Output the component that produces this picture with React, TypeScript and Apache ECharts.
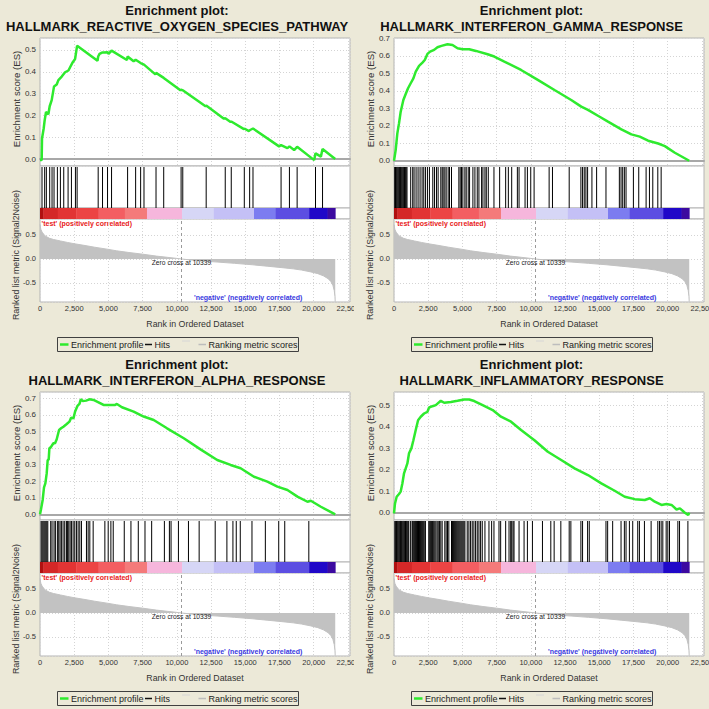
import React, { useEffect, useRef } from 'react';
import * as echarts from 'echarts';

const FONT = "'Liberation Sans', Arial, Helvetica, sans-serif";
const BG = '#ECE9D8';

// ---------- data ----------
const titles = [
  'HALLMARK_REACTIVE_OXYGEN_SPECIES_PATHWAY',
  'HALLMARK_INTERFERON_GAMMA_RESPONSE',
  'HALLMARK_INTERFERON_ALPHA_RESPONSE',
  'HALLMARK_INFLAMMATORY_RESPONSE',
];

const zeroCross = 10339;

const esRos: [number, number][] = [
  [0, -0.005], [122, -0.005], [147, 0.094], [269, 0.14], [342, 0.178], [440, 0.216], [611, 0.205], [708, 0.242],
  [855, 0.27], [1026, 0.333], [1221, 0.342], [1344, 0.362], [1588, 0.378], [1832, 0.398], [2077, 0.406],
  [2199, 0.421], [2394, 0.444], [2565, 0.459], [2712, 0.52], [4202, 0.451], [4251, 0.47], [4349, 0.482],
  [4568, 0.489], [4642, 0.489], [4935, 0.49], [5008, 0.482], [5228, 0.497], [6352, 0.454], [6400, 0.47],
  [6840, 0.448], [6987, 0.455], [7353, 0.44], [7598, 0.433], [8429, 0.388], [8477, 0.395], [9039, 0.372],
  [10261, 0.315], [10310, 0.318], [10432, 0.315], [12093, 0.242], [12142, 0.245], [13437, 0.185],
  [13535, 0.187], [13925, 0.17], [13974, 0.172], [14903, 0.137], [14927, 0.14], [15270, 0.128], [15318, 0.132],
  [15562, 0.14], [17467, 0.058], [17614, 0.064], [18078, 0.05], [18225, 0.058], [18567, 0.041], [18787, 0.056],
  [20033, -0.005], [20130, 0.026], [20522, 0.011], [20644, 0.046], [21571, 0.0],
];

const esIfng: [number, number][] = [
  [0, 0], [122, 0.061], [244, 0.157], [366, 0.214], [489, 0.281], [684, 0.348], [855, 0.382], [1026, 0.415],
  [1221, 0.444], [1417, 0.472], [1588, 0.51], [1832, 0.543], [2077, 0.562], [2248, 0.577], [2443, 0.612],
  [2638, 0.625], [2932, 0.635], [3176, 0.65], [3469, 0.658], [3909, 0.667], [4275, 0.663], [4642, 0.644],
  [5008, 0.639], [5497, 0.639], [5986, 0.629], [6840, 0.61], [7329, 0.597], [8062, 0.568], [9283, 0.52],
  [10505, 0.463], [11726, 0.405], [12948, 0.348], [13681, 0.31], [14170, 0.291], [15024, 0.252], [15635, 0.224],
  [16612, 0.18], [17345, 0.151], [17956, 0.138], [18567, 0.115], [19300, 0.099], [19788, 0.084], [20521, 0.046],
  [21571, 0.0],
];

const esIfna: [number, number][] = [
  [0, 0], [73, 0.03], [195, 0.087], [293, 0.163], [391, 0.187], [489, 0.247], [562, 0.328], [636, 0.33],
  [684, 0.398], [782, 0.404], [977, 0.429], [1099, 0.429], [1221, 0.453], [1393, 0.509], [1539, 0.519],
  [1710, 0.529], [1954, 0.545], [2150, 0.559], [2272, 0.583], [2443, 0.579], [2565, 0.62], [2736, 0.654],
  [2883, 0.666], [2980, 0.694], [3127, 0.684], [3371, 0.686], [3616, 0.694], [3909, 0.69], [4275, 0.676],
  [4642, 0.66], [5008, 0.66], [5497, 0.66], [5619, 0.666], [5986, 0.646], [6840, 0.62], [7574, 0.59],
  [8306, 0.569], [9283, 0.519], [10505, 0.459], [11726, 0.392], [12948, 0.328], [13925, 0.298], [14658, 0.278],
  [15635, 0.227], [16612, 0.197], [17345, 0.167], [18078, 0.147], [18811, 0.107], [19544, 0.076], [19788, 0.082],
  [20521, 0.046], [21571, 0],
];

const esInfl: [number, number][] = [
  [0, -0.003], [73, 0.043], [195, 0.074], [366, 0.087], [489, 0.098], [611, 0.136], [733, 0.183], [855, 0.206],
  [977, 0.229], [1099, 0.276], [1270, 0.299], [1417, 0.337], [1588, 0.384], [1759, 0.43], [1954, 0.446],
  [2199, 0.461], [2443, 0.469], [2565, 0.489], [2809, 0.495], [3054, 0.5], [3420, 0.52], [3665, 0.511],
  [4153, 0.515], [4642, 0.52], [5130, 0.526], [5497, 0.526], [5863, 0.519], [6474, 0.5], [7207, 0.477],
  [7818, 0.446], [8551, 0.423], [9283, 0.384], [10261, 0.337], [11238, 0.283], [12215, 0.245], [13192, 0.206],
  [14169, 0.175], [15146, 0.136], [16124, 0.102], [16857, 0.074], [17590, 0.063], [18323, 0.059], [18689, 0.067],
  [19055, 0.051], [19544, 0.036], [19910, 0.04], [20277, 0.036], [20644, 0.015], [20888, 0.02], [21254, 0.0],
  [21498, -0.011], [21571, 0.0],
];

const hitsRos = [
  147, 342, 464, 708, 880, 1026, 1270, 1490, 1735, 2052, 2296, 2589, 2712, 4251, 4568, 4935, 5228, 6400, 6987,
  7353, 7598, 8477, 9039, 10310, 10432, 12142, 13535, 13974, 14927, 15318, 15562, 17614, 18225, 18787, 20130, 20644,
];

const hitsIfng = [
  50, 110, 170, 230, 290, 350, 410, 470, 530, 590, 650, 710, 770, 830, 890, 950,
  1221, 1368, 1465, 1612, 1759, 1905, 2052, 2174, 2296, 2443, 2589, 2833, 2956, 3102, 3224,
  3420, 3518, 3591, 3713, 3811, 3957, 4055, 4202, 4739, 4837, 4934, 5032, 5179, 5276, 5423, 5521,
  5765, 5912, 6083, 6205, 6400, 6498, 6645, 6743, 6889, 7304, 7719, 8159, 8355, 8599, 9014, 9137, 9576,
  9747, 9991, 10236, 11335, 11579, 12801, 13656, 13778, 13900, 14022, 14145, 14462, 14804, 15488,
  16465, 16588, 16710, 16832, 16954, 17491, 17882, 18420, 18664, 18908, 19275, 19519,
];

const hitsIfna = [
  80, 150, 220, 290, 360, 430, 500, 570,
  781, 879, 1026, 1124, 1270, 1368, 1465, 1563, 1685, 1807, 1930, 2003, 2101, 2198, 2296, 2418, 2540, 2662,
  2785, 2907, 3029, 3395, 3518, 3640, 3884, 4739, 4983, 5179, 5350, 6156, 6645, 7182, 7671, 8159, 9088,
  9454, 9576, 10114, 10847, 11628, 12801, 13656, 14096, 14340, 14633, 15488, 16465, 17443, 17882, 19641,
];

const hitsInfl = [
  60, 120, 180, 240, 300, 360, 420, 480, 540, 600, 660, 720, 780, 840, 900, 960, 1020, 1075,
  1197, 1319, 1368, 1440, 1510, 1580, 1650, 1720, 1790, 1860, 1930, 2000, 2070, 2140, 2210, 2296,
  2540, 2610, 2680, 2750, 2820, 2900, 2980, 3060, 3150, 3230, 3320, 3420, 3518,
  3713, 3811, 3909, 4006,
  4202, 4270, 4340, 4410, 4480, 4550, 4620, 4690, 4760, 4830, 4900, 4970, 5040, 5110, 5180,
  5350, 5472, 5594, 5716, 5838, 5961, 6083, 6205, 6327, 6449, 6645, 6938, 7133, 7304, 7671, 7793, 8159,
  8404, 8526, 8600, 8697, 8770, 9137, 9503, 9747, 10114, 10847, 11457, 11701, 12190, 12801, 12923,
  13656, 13778, 14145, 14267, 15488, 15610, 15977, 16588, 16832, 16954, 17199, 17443, 17809, 17931,
  18298, 18786, 19275, 19397, 19519, 19641, 19886, 20008, 20130, 20741, 20863, 21474,
];

const metricCurve: [number, number][] = [
  [0, 0.72], [60, 0.62], [150, 0.56], [370, 0.48], [700, 0.43], [1000, 0.405], [1500, 0.375], [2000, 0.345],
  [2500, 0.318], [3200, 0.285], [4000, 0.245], [5000, 0.2], [5600, 0.17], [6500, 0.135], [7500, 0.1],
  [8500, 0.06], [9300, 0.035], [10000, 0.012], [10339, 0], [11000, -0.02], [11750, -0.04], [13000, -0.065],
  [14200, -0.09], [15500, -0.12], [16600, -0.15], [17500, -0.175], [18500, -0.205], [19100, -0.23],
  [19800, -0.27], [20300, -0.305], [20700, -0.35], [21050, -0.41], [21250, -0.47], [21400, -0.55],
  [21500, -0.66], [21550, -0.78], [21571, -0.89],
];

const colorBarBounds = [0, 244, 1300, 2650, 4275, 6200, 7817, 10382, 12703, 15635, 17223, 19666, 21009, 21571];
const colorBarColors = [
  '#B01010', '#D42828', '#E23434', '#EC4444', '#F35E62', '#F47A7A', '#F6B6DC',
  '#D6D6F6', '#C4C0F6', '#7C7CF0', '#5C4EE2', '#2008C8', '#3C0AA0',
];

const esRanges: [number, number][] = [
  [-0.032, 0.555],
  [-0.03, 0.703],
  [-0.034, 0.738],
  [-0.034, 0.561],
];
const metricRange: [number, number] = [-0.896, 0.833];

const esSeries = [esRos, esIfng, esIfna, esInfl];
const hitSeries = [hitsRos, hitsIfng, hitsIfna, hitsInfl];

// ---------- layout ----------
const XMAX = 22650;
const L = 40;
const W = 310;
const ES = { top: 38, height: 128 };
const HITS = { top: 166, height: 42 };
const BAR = { top: 208, height: 11 };
const MET = { top: 219, height: 83 };

const gridLine = { color: '#D4D4D4', type: [1, 2] as any, width: 1 };

function fmtRank(v: number) {
  if (Math.abs(v % 2500) > 1e-6) return '';
  return String(v).replace(/\B(?=(\d{3})+(?!\d))/g, ',');
}
function fmtStep(step: number) {
  return (v: number) => {
    const r = Math.round(v / step) * step;
    if (Math.abs(v - r) > 1e-6) return '';
    return (Math.abs(r) < 1e-9 ? 0 : r).toFixed(1);
  };
}

function text(t: string, x: number, y: number, size: number, extra: any = {}) {
  const { rotation, align, verticalAlign, fill, fontWeight } = extra;
  return {
    type: 'text',
    x,
    y,
    rotation: rotation || 0,
    silent: true,
    style: {
      text: t,
      fontSize: size,
      fontFamily: FONT,
      fontWeight: fontWeight || 'normal',
      fill: fill || '#222',
      align: align || 'left',
      verticalAlign: verticalAlign || 'middle',
    },
  };
}

function buildOption(idx: number) {
  const [esMin, esMax] = esRanges[idx];
  const grid = (g: { top: number; height: number }) => ({
    left: L,
    top: g.top,
    width: W,
    height: g.height,
    show: true,
    backgroundColor: '#FFFFFF',
    borderColor: '#B4B4B4',
    borderWidth: 1,
    containLabel: false,
    outerBoundsMode: 'none',
  });
  const hiddenX = (gi: number) => ({ gridIndex: gi, type: 'value', min: 0, max: XMAX, show: false });
  const hiddenY = (gi: number) => ({ gridIndex: gi, type: 'value', min: 0, max: 1, show: false });
  const tickLabel = { fontFamily: FONT, color: '#333' };

  return {
    animation: false,
    backgroundColor: 'transparent',
    title: [
      {
        text: 'Enrichment plot:',
        left: 'center',
        top: 4,
        padding: 0,
        textStyle: { fontFamily: FONT, fontSize: 13, fontWeight: 'bold', color: '#111' },
      },
      {
        text: titles[idx],
        left: 'center',
        top: 20,
        padding: 0,
        textStyle: { fontFamily: FONT, fontSize: 13, fontWeight: 'bold', color: '#111' },
      },
    ],
    grid: [grid(ES), grid(HITS), grid(BAR), grid(MET)],
    xAxis: [
      {
        gridIndex: 0,
        type: 'value',
        min: 0,
        max: XMAX,
        interval: 2500,
        axisLabel: { show: false },
        axisTick: { show: false },
        axisLine: { show: true, onZero: true, lineStyle: { color: '#A8A8A8', width: 2 } },
        splitLine: { show: true, lineStyle: gridLine },
      },
      hiddenX(1),
      hiddenX(2),
      {
        gridIndex: 3,
        type: 'value',
        min: 0,
        max: XMAX,
        interval: 2500,
        axisLabel: { ...tickLabel, fontSize: 7.5, margin: 2, formatter: fmtRank },
        axisTick: { show: false },
        axisLine: { show: false },
        splitLine: { show: true, lineStyle: gridLine },
      },
    ],
    yAxis: [
      {
        gridIndex: 0,
        type: 'value',
        min: esMin,
        max: esMax,
        splitNumber: 6,
        axisLabel: { ...tickLabel, fontSize: 8, margin: 4, formatter: fmtStep(0.1) },
        axisTick: { show: false },
        axisLine: { show: false },
        splitLine: { show: true, lineStyle: gridLine },
      },
      hiddenY(1),
      hiddenY(2),
      {
        gridIndex: 3,
        type: 'value',
        min: metricRange[0],
        max: metricRange[1],
        splitNumber: 4,
        axisLabel: { ...tickLabel, fontSize: 7.5, margin: 4, formatter: fmtStep(0.5) },
        axisTick: { show: false },
        axisLine: { show: false },
        splitLine: { show: true, lineStyle: gridLine },
      },
    ],
    series: [
      {
        name: 'Enrichment profile',
        type: 'line',
        xAxisIndex: 0,
        yAxisIndex: 0,
        data: esSeries[idx],
        symbol: 'none',
        showSymbol: false,
        silent: true,
        z: 5,
        lineStyle: { color: '#2EEA2E', width: 2.5 },
      },
      {
        name: 'Hits',
        type: 'custom',
        xAxisIndex: 1,
        yAxisIndex: 1,
        silent: true,
        data: hitSeries[idx].map((h) => [h, 0]),
        renderItem: (params: any, api: any) => {
          const x = api.coord([api.value(0), 0])[0];
          const cs = params.coordSys;
          return {
            type: 'line',
            shape: { x1: x, y1: cs.y + 1, x2: x, y2: cs.y + cs.height },
            style: { stroke: '#000', lineWidth: 1 },
          };
        },
      },
      {
        name: 'Color bar',
        type: 'custom',
        xAxisIndex: 2,
        yAxisIndex: 2,
        silent: true,
        data: colorBarColors.map((_, i) => [colorBarBounds[i], colorBarBounds[i + 1], i]),
        renderItem: (params: any, api: any) => {
          const x1 = api.coord([api.value(0), 0])[0];
          const x2 = api.coord([api.value(1), 0])[0];
          const cs = params.coordSys;
          return {
            type: 'rect',
            shape: { x: x1, y: cs.y, width: x2 - x1 + 0.4, height: cs.height },
            style: { fill: colorBarColors[api.value(2)] },
          };
        },
      },
      {
        name: 'Ranking metric scores',
        type: 'line',
        xAxisIndex: 3,
        yAxisIndex: 3,
        data: metricCurve,
        symbol: 'none',
        showSymbol: false,
        silent: true,
        lineStyle: { color: '#C2C2C2', width: 1 },
        areaStyle: { color: '#C2C2C2', opacity: 1 },
        markLine: {
          silent: true,
          symbol: ['none', 'none'],
          label: { show: false },
          lineStyle: { color: '#9A9A9A', type: [3, 3], width: 1 },
          data: [{ xAxis: zeroCross }],
        },
        markPoint: {
          silent: true,
          symbol: 'circle',
          symbolSize: 1,
          itemStyle: { color: 'rgba(0,0,0,0)' },
          label: {
            show: true,
            position: 'inside',
            offset: [0, 3.5],
            formatter: 'Zero cross at ' + zeroCross,
            fontFamily: FONT,
            fontSize: 6.7,
            color: '#222',
          },
          data: [{ coord: [zeroCross, 0] }],
        },
      },
    ],
    graphic: [
      text('Enrichment score (ES)', 16, 99, 9.6, { rotation: Math.PI / 2, align: 'center', fill: '#333' }),
      text('Ranked list metric (Signal2Noise)', 15.5, 255, 8.8, { rotation: Math.PI / 2, align: 'center', fill: '#333' }),
      text('Rank in Ordered Dataset', 195, 324, 8.8, { align: 'center', fill: '#333' }),
      text("'test' (positively correlated)", 41.5, 223, 7, { fill: '#E82020', fontWeight: 'bold' }),
      text("'negative' (negatively correlated)", 194, 297, 7, { fill: '#3838E0', fontWeight: 'bold' }),
      {
        type: 'rect',
        silent: true,
        shape: { x: 57.5, y: 337.5, width: 241, height: 14 },
        style: { fill: 'none', stroke: '#404040', lineWidth: 1 },
      },
      { type: 'line', silent: true, shape: { x1: 60, y1: 344.5, x2: 68.5, y2: 344.5 }, style: { stroke: '#2EEA2E', lineWidth: 2.5 } },
      text('Enrichment profile', 71, 344.5, 9),
      { type: 'line', silent: true, shape: { x1: 145, y1: 344.5, x2: 152, y2: 344.5 }, style: { stroke: '#111', lineWidth: 1.5 } },
      text('Hits', 154.5, 344.5, 9),
      { type: 'line', silent: true, shape: { x1: 182, y1: 341, x2: 190, y2: 341 }, style: { stroke: '#D6D6D6', lineWidth: 1 } },
      { type: 'line', silent: true, shape: { x1: 198.5, y1: 344.5, x2: 206, y2: 344.5 }, style: { stroke: '#BDBDBD', lineWidth: 1.5 } },
      text('Ranking metric scores', 208.5, 344.5, 9),
    ],
  };
}

function Panel({ idx, left, top, width, height }: { idx: number; left: number; top: number; width: number; height: number }) {
  const ref = useRef<HTMLDivElement>(null);
  useEffect(() => {
    if (!ref.current) return;
    const chart = echarts.init(ref.current, undefined, { renderer: 'svg' });
    chart.setOption(buildOption(idx) as any);
    return () => chart.dispose();
  }, [idx]);
  return <div ref={ref} style={{ position: 'absolute', left, top, width, height, overflow: 'hidden' }} />;
}

export default function App() {
  return (
    <div style={{ position: 'absolute', left: 0, top: 0, width: 709, height: 709, background: BG, overflow: 'hidden' }}>
      <Panel idx={0} left={0} top={0} width={354} height={354} />
      <Panel idx={1} left={354} top={0} width={355} height={354} />
      <Panel idx={2} left={0} top={354} width={354} height={355} />
      <Panel idx={3} left={354} top={354} width={355} height={355} />
    </div>
  );
}
